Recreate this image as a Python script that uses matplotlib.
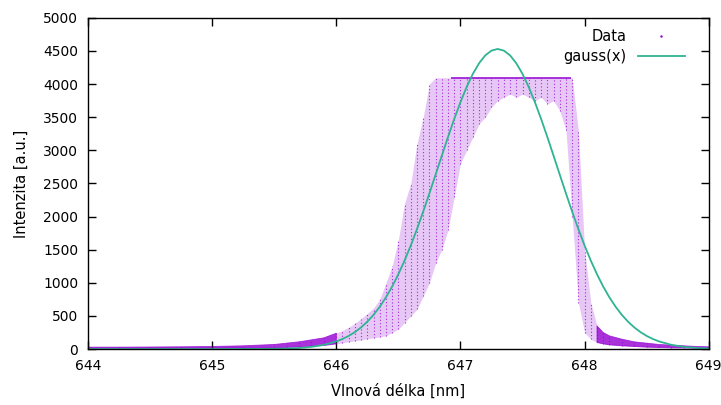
import numpy as np
import matplotlib
matplotlib.use('Agg')
import matplotlib.pyplot as plt
from matplotlib.lines import Line2D

data_x = [644.0, 644.25, 644.5, 644.75, 645.0, 645.25, 645.5, 645.6, 645.7, 645.8,
          645.9, 646.0, 646.05, 646.1, 646.15, 646.2, 646.25, 646.3, 646.35, 646.4,
          646.45, 646.5, 646.55, 646.6, 646.65, 646.7, 646.75, 646.8, 646.85, 646.9,
          646.95, 647.0, 647.05, 647.1, 647.15, 647.2, 647.25, 647.3, 647.35, 647.4,
          647.45, 647.5, 647.55, 647.6, 647.65, 647.7, 647.75, 647.8, 647.85, 647.9,
          647.95, 648.0, 648.05, 648.1, 648.15, 648.2, 648.3, 648.4, 648.5, 648.6,
          648.7, 648.8, 648.9, 649.0]
data_lo = [12, 12, 12, 14, 15, 18, 20, 25, 35, 45,
           55, 80, 95, 110, 125, 140, 155, 170, 185, 200,
           250, 300, 400, 500, 600, 800, 1000, 1300, 1500, 1800,
           2300, 2800, 3000, 3200, 3400, 3500, 3650, 3750, 3800, 3850,
           3800, 3850, 3800, 3750, 3800, 3700, 3750, 3600, 3300, 2000,
           700, 250, 150, 100, 80, 65, 50, 40, 30, 25,
           20, 18, 15, 15]
data_hi = [30, 30, 32, 35, 40, 50, 70, 90, 110, 140,
           170, 240, 280, 330, 390, 460, 540, 620, 750, 1000,
           1250, 1650, 2200, 2500, 3100, 3500, 4000, 4095, 4095, 4095,
           4095, 4095, 4095, 4095, 4095, 4095, 4095, 4095, 4095, 4095,
           4095, 4095, 4095, 4095, 4095, 4095, 4095, 4095, 4095, 4095,
           3300, 1500, 700, 350, 250, 200, 150, 110, 90, 70,
           60, 50, 40, 35]

# detector saturation plateau
sat_level = 4095
sat_start = 646.93
sat_end = 647.88

# fitted gauss(x), values
gauss_x = [644.0, 644.5, 645.0, 645.5, 645.6, 645.7, 645.8, 645.9, 646.0, 646.05,
           646.1, 646.15, 646.2, 646.25, 646.3, 646.35, 646.4, 646.45, 646.5, 646.55,
           646.6, 646.65, 646.7, 646.75, 646.8, 646.85, 646.9, 646.95, 647.0, 647.05,
           647.1, 647.15, 647.2, 647.25, 647.3, 647.35, 647.4, 647.45, 647.5, 647.55,
           647.6, 647.65, 647.7, 647.75, 647.8, 647.85, 647.9, 647.95, 648.0, 648.05,
           648.1, 648.15, 648.2, 648.25, 648.3, 648.35, 648.4, 648.45, 648.5, 648.55,
           648.6, 648.7, 648.8, 648.9, 649.0]
gauss_y = [0, 0, 0, 4, 9, 17, 34, 64, 116, 153,
           199, 257, 328, 414, 517, 639, 781, 944, 1130, 1336,
           1564, 1811, 2074, 2350, 2633, 2919, 3201, 3473, 3726, 3956,
           4154, 4314, 4433, 4505, 4530, 4505, 4433, 4314, 4154, 3956,
           3726, 3473, 3201, 2919, 2633, 2350, 2074, 1811, 1564, 1336,
           1130, 944, 781, 639, 517, 414, 328, 257, 199, 153,
           116, 64, 34, 17, 9]

purple = '#9400d3'
teal = '#2fb393'

fig = plt.figure(figsize=(7.21, 4.05), dpi=100)
ax = fig.add_axes([0.122, 0.138, 0.861, 0.818])

x = np.array(data_x)
lo = np.array(data_lo)
hi = np.array(data_hi)
ax.fill_between(x, lo, hi, color=purple, alpha=0.22, lw=0)
ax.vlines(x, lo, hi, colors=purple, linestyles=(0, (1, 2)), lw=0.8, alpha=0.8)

# dense low-level band in the wings
wing = (x <= 646.0) | (x >= 648.1)
ax.fill_between(x, lo, hi, where=wing, color=purple, alpha=0.75, lw=0.6)

ax.plot([sat_start, sat_end], [sat_level, sat_level], color=purple, lw=1.4, alpha=0.8)

ax.plot(gauss_x, gauss_y, color=teal, lw=1.3)

ax.set_xlim(644, 649)
ax.set_ylim(0, 5000)
ax.set_xticks([644, 645, 646, 647, 648, 649])
ax.set_yticks(np.arange(0, 5001, 500))
ax.tick_params(direction='in', top=True, right=True, length=6, width=1,
               labelsize=10, pad=7)
for s in ax.spines.values():
    s.set_linewidth(1)

ax.set_xlabel('Vlnová délka [nm]', fontsize=10.5, labelpad=8)
ax.set_ylabel('Intenzita [a.u.]', fontsize=10.5, labelpad=10)

handles = [Line2D([], [], color=purple, marker='.', markersize=1.5, lw=0),
           Line2D([], [], color=teal, lw=1.3)]
ax.legend(handles, ['Data', 'gauss(x)'], loc='upper right', frameon=False,
          markerfirst=False, fontsize=10.5, handlelength=3.2,
          borderaxespad=0.4, labelspacing=0.3, bbox_to_anchor=(0.98, 1.0))

fig.savefig('out.png', dpi=100)
